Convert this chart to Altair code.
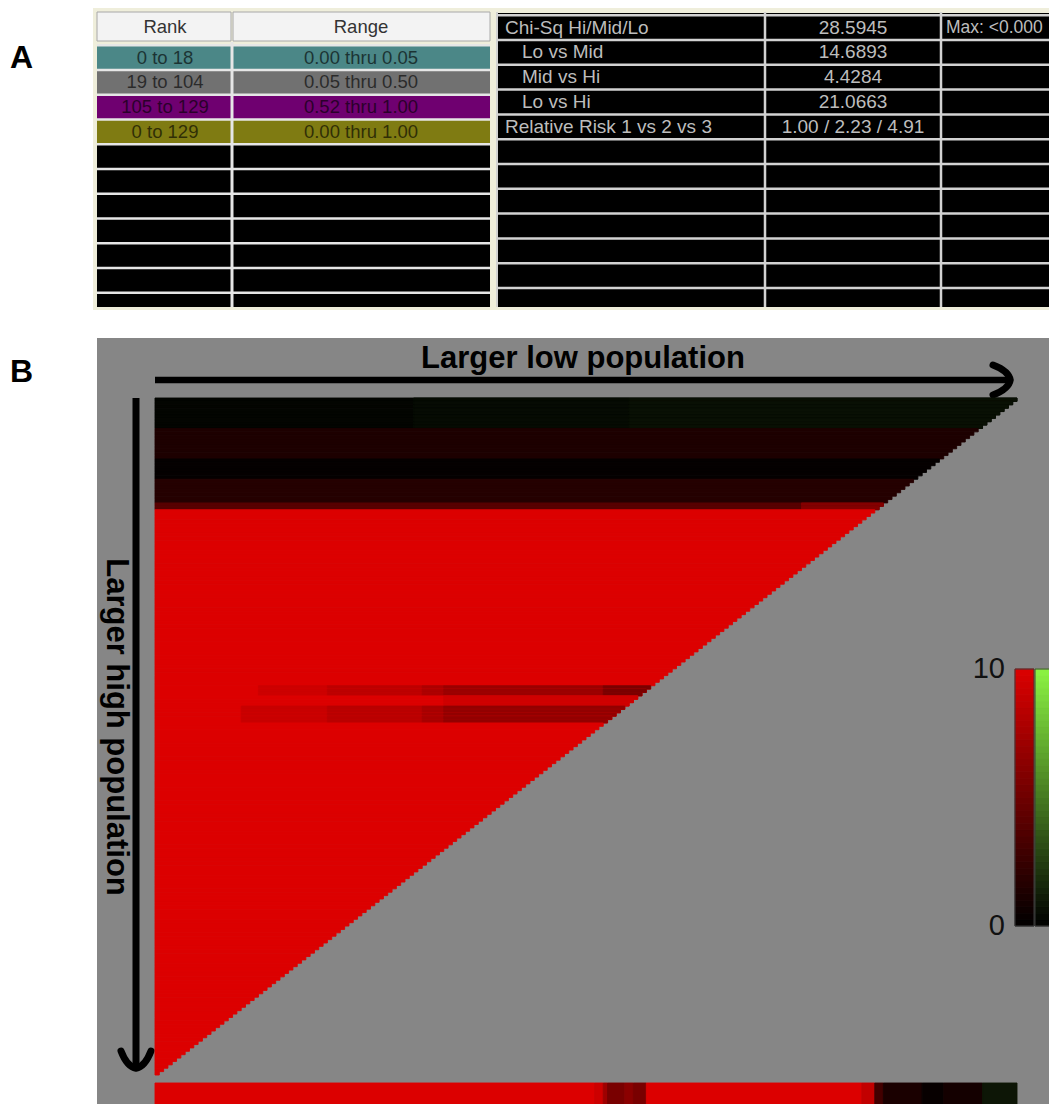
import altair as alt
import pandas as pd

OFF = 8  # page margin of the html page


def px(v):
    return v - OFF


W, H = 1041, 1096
FONT = "Liberation Sans, Arial, Helvetica, sans-serif"

# ---------------- data ----------------
# Panel A, left table
rank_labels = ["0 to 18", "19 to 104", "105 to 129", "0 to 129"]
range_labels = ["0.00 thru 0.05", "0.05 thru 0.50", "0.52 thru 1.00", "0.00 thru 1.00"]

# Panel A, right table
stat_names = ["Chi-Sq Hi/Mid/Lo", "Lo vs Mid", "Mid vs Hi", "Lo vs Hi", "Relative Risk 1 vs 2 vs 3"]
stat_values = ["28.5945", "14.6893", "4.4284", "21.0663", "1.00 / 2.23 / 4.91"]
stat_notes = ["Max: <0.000", "", "", "", ""]
stat_level = [0, 1, 1, 1, 0]

# Panel B, triangular map: N cut-offs on each axis
N_CUT = 200
# segments: rows [r0, r1), columns [c0, c1), signed score (+ red, - green)
seg_r0 = [0, 9, 18, 24, 31, 33, 0, 0, 31, 85, 85, 85, 85, 85, 88, 91, 91, 91, 91]
seg_r1 = [9, 18, 24, 31, 33, 200, 9, 9, 33, 88, 88, 88, 88, 88, 91, 96, 96, 96, 96]
seg_c0 = [0, 0, 0, 0, 0, 0, 60, 110, 150, 24, 40, 62, 67, 104, 67, 20, 40, 62, 67]
seg_c1 = [200, 200, 200, 200, 200, 200, 110, 200, 200, 40, 62, 67, 104, 200, 200, 40, 62, 67, 200]
seg_score = [-0.2, 1.3, 0.25, 1.7, 4.0, 10, -0.45, -0.65, 6.0,
             9.3, 8.6, 7.8, 7.0, 5.6, 9.4, 9.1, 8.4, 7.6, 6.7]

# Panel B, summary strip below the map (columns)
bar_c0 = [0, 102, 104, 105, 109, 111, 114, 164, 167, 169, 178, 183, 192]
bar_c1 = [102, 104, 105, 109, 111, 114, 164, 167, 169, 178, 183, 192, 200]
bar_score = [10, 9.3, 7.2, 5.5, 6.3, 5.5, 10, 8.8, 3.0, 1.2, 0.3, 0.9, -0.9]

# color key
legend_min, legend_max = 0, 10

# ---------------- styles ----------------
GROUP_COLORS = ["#4b8787", "#717171", "#6f0070", "#7f7b12"]
GRAY = "#868686"
cS = alt.Scale(domain=[-10, 0, 10], range=["#8cf442", "#000000", "#dc0000"], interpolate="rgb")

ONE = pd.DataFrame({"k": [0]})


def rect(x0, x1, y0, y1, fill, **kw):
    return alt.Chart(ONE).mark_rect(color=fill, **kw).encode(
        x=alt.value(px(x0)), x2=alt.value(px(x1)),
        y=alt.value(px(y0)), y2=alt.value(px(y1)))


def label(text, x, y, size, weight="normal", align="left", baseline="alphabetic",
          color="black", angle=0, opacity=1.0):
    kw = dict(font=FONT, fontSize=size, fontWeight=weight, align=align,
              baseline=baseline, color=color, opacity=opacity)
    if angle:
        kw["angle"] = angle
    return alt.Chart(pd.DataFrame({"t": [text]})).mark_text(**kw).encode(
        text="t:N", x=alt.value(px(x)), y=alt.value(px(y)))


def hline(x0, x1, y, color, w):
    return alt.Chart(ONE).mark_rule(color=color, strokeWidth=w).encode(
        x=alt.value(px(x0)), x2=alt.value(px(x1)), y=alt.value(px(y)))


def vline(x, y0, y1, color, w):
    return alt.Chart(ONE).mark_rule(color=color, strokeWidth=w).encode(
        x=alt.value(px(x)), y=alt.value(px(y0)), y2=alt.value(px(y1)))


layers = []

# ================= Panel A =================
layers.append(rect(93, 1057, 7, 310, "#efeedb"))

# ---- left table ----
yL = alt.Scale(domain=[0, 11], range=[px(45.3), px(45.3 + 11 * 24.74)])
layers.append(rect(97, 231, 12, 41, "#f3f3f3", stroke="#a8a8a8", strokeWidth=1))
layers.append(rect(233, 490, 12, 41, "#f3f3f3", stroke="#a8a8a8", strokeWidth=1))
layers.append(label("Rank", 165, 27, 18.5, align="center", baseline="middle", color="#333333"))
layers.append(label("Range", 361, 27, 18.5, align="center", baseline="middle", color="#333333"))
layers.append(rect(97, 490, 44, 307, "#000000"))

left_df = pd.DataFrame({"row": list(range(len(rank_labels))), "rank": rank_labels,
                        "rng": range_labels})
layers.append(
    alt.Chart(left_df).transform_calculate(row_end="datum.row + 1").mark_rect().encode(
        y=alt.Y("row:Q", scale=yL, axis=None), y2="row_end:Q",
        x=alt.value(px(97)), x2=alt.value(px(490)),
        color=alt.Color("rank:N", scale=alt.Scale(domain=rank_labels, range=GROUP_COLORS),
                        legend=None)))
layers.append(
    alt.Chart(pd.DataFrame({"b": list(range(0, 11))})).mark_rule(
        color="#e6e6e6", strokeWidth=2.5).encode(
        y=alt.Y("b:Q", scale=yL, axis=None), x=alt.value(px(97)), x2=alt.value(px(490))))
layers.append(vline(232, 42, 307, "#e6e6e6", 3))
for field, xc in (("rank", 165), ("rng", 361)):
    layers.append(
        alt.Chart(left_df).transform_calculate(mid="datum.row + 0.5").mark_text(
            font=FONT, fontSize=18.5, color="black", opacity=0.62, baseline="middle",
            align="center").encode(
            y=alt.Y("mid:Q", scale=yL, axis=None), x=alt.value(px(xc)), text=f"{field}:N"))

# ---- right table ----
yR = alt.Scale(domain=[0, 12], range=[px(15.2), px(15.2 + 12 * 24.8)])
layers.append(rect(497, 1060, 13, 307, "#000000"))
layers.append(
    alt.Chart(pd.DataFrame({"b": list(range(0, 12))})).mark_rule(
        color="#d2d2d2", strokeWidth=2.5).encode(
        y=alt.Y("b:Q", scale=yR, axis=None), x=alt.value(px(497)), x2=alt.value(px(1060))))
layers.append(vline(497, 12, 307, "#d2d2d2", 2))
layers.append(vline(765, 12, 307, "#d2d2d2", 2.5))
layers.append(vline(941, 12, 307, "#d2d2d2", 2.5))

right_df = pd.DataFrame({"row": list(range(len(stat_names))), "name": stat_names,
                         "val": stat_values, "note": stat_notes, "lvl": stat_level})
txt_kw = dict(font=FONT, color="#bdbdbd", baseline="middle")
layers.append(
    alt.Chart(right_df).transform_calculate(mid="datum.row + 0.5").mark_text(
        align="left", fontSize=19, **txt_kw).encode(
        y=alt.Y("mid:Q", scale=yR, axis=None),
        x=alt.X("lvl:Q", scale=alt.Scale(domain=[0, 1], range=[px(505), px(522)]), axis=None),
        text="name:N"))
layers.append(
    alt.Chart(right_df).transform_calculate(mid="datum.row + 0.5").mark_text(
        align="center", fontSize=19, **txt_kw).encode(
        y=alt.Y("mid:Q", scale=yR, axis=None), x=alt.value(px(853)), text="val:N"))
layers.append(
    alt.Chart(right_df).transform_filter("datum.note != ''").transform_calculate(
        mid="datum.row + 0.5").mark_text(align="left", fontSize=17.5, **txt_kw).encode(
        y=alt.Y("mid:Q", scale=yR, axis=None), x=alt.value(px(946)), text="note:N"))

# panel letters
layers.append(label("A", 10, 68, 32, weight="bold"))
layers.append(label("B", 10, 382, 32, weight="bold"))

# ================= Panel B =================
layers.append(rect(97, 1060, 338, 1115, GRAY))
layers.append(label("Larger low population", 583, 368, 31, weight="bold", align="center"))
layers.append(label("Larger high population", 116, 727, 31, weight="bold", align="center",
                    baseline="middle", angle=90))

# arrows
CHEVRON = "M -0.6 -1 Q 0.45 -0.6 0.55 0 Q 0.45 0.6 -0.6 1"
layers.append(hline(155, 1008, 380, "black", 6.5))
layers.append(vline(136, 398, 1066, "black", 7))
for ang, (ax, ay) in ((0, (1002, 380)), (90, (136, 1060))):
    kw = dict(shape=CHEVRON, size=900, filled=False, strokeWidth=7, color="black",
              opacity=1, strokeCap="round")
    if ang:
        kw["angle"] = ang
    layers.append(alt.Chart(ONE).mark_point(**kw).encode(
        x=alt.value(px(ax)), y=alt.value(px(ay))))

# triangular heat map
xH = alt.Scale(domain=[0, N_CUT], range=[px(155), px(1017)])
yH = alt.Scale(domain=[0, N_CUT], range=[px(398), px(1075)])
cells = []
for r in range(N_CUT):
    w = N_CUT - r
    for r0, r1, c0, c1, s in zip(seg_r0, seg_r1, seg_c0, seg_c1, seg_score):
        if r0 <= r < r1 and c0 < w:
            cells.append({"r": r, "r1": r + 1, "c": c0, "c1": min(c1, w), "score": s})
heat_df = pd.DataFrame(cells)
layers.append(
    alt.Chart(heat_df).mark_rect(strokeWidth=0.9).encode(
        x=alt.X("c:Q", scale=xH, axis=None), x2="c1:Q",
        y=alt.Y("r:Q", scale=yH, axis=None), y2="r1:Q",
        color=alt.Color("score:Q", scale=cS, legend=None),
        stroke=alt.Stroke("score:Q", scale=cS, legend=None)))

# summary strip
bar_df = pd.DataFrame({"c0": bar_c0, "c1": bar_c1, "score": bar_score})
layers.append(
    alt.Chart(bar_df).mark_rect(strokeWidth=0.9).encode(
        x=alt.X("c0:Q", scale=xH, axis=None), x2="c1:Q",
        y=alt.value(px(1083)), y2=alt.value(px(1107)),
        color=alt.Color("score:Q", scale=cS, legend=None),
        stroke=alt.Stroke("score:Q", scale=cS, legend=None)))

# color key (two ramps: red for +, green for -)
yLeg = alt.Scale(domain=[legend_min, legend_max], range=[px(926), px(669)])
steps = [legend_min + i * 0.25 for i in range(int((legend_max - legend_min) / 0.25))]
for sign, (kx0, kx1) in ((1, (1015, 1034)), (-1, (1035, 1054))):
    kdf = pd.DataFrame({"v0": steps, "v1": [s + 0.25 for s in steps],
                        "score": [sign * (s + 0.125) for s in steps]})
    layers.append(
        alt.Chart(kdf).mark_rect(strokeWidth=0.8).encode(
            y=alt.Y("v0:Q", scale=yLeg, axis=None), y2="v1:Q",
            x=alt.value(px(kx0)), x2=alt.value(px(kx1)),
            color=alt.Color("score:Q", scale=cS, legend=None),
            stroke=alt.Stroke("score:Q", scale=cS, legend=None)))
    layers.append(rect(kx0, kx1, 669, 926, "#000000", fillOpacity=0, stroke="#3c3c3c",
                       strokeWidth=1))
layers.append(
    alt.Chart(pd.DataFrame({"v": [legend_min, legend_max]})).mark_text(
        font=FONT, fontSize=29, align="right", baseline="middle", color="#111111").encode(
        y=alt.Y("v:Q", scale=yLeg, axis=None), x=alt.value(px(1005)), text="v:Q"))

chart = alt.layer(*layers).resolve_scale(
    x="independent", y="independent", color="independent", stroke="independent"
).properties(
    width=W, height=H, autosize=alt.AutoSizeParams(type="none"), padding=0,
    background="white"
).configure_view(stroke=None)

chart.save("out.html", embed_options={"renderer": "svg", "actions": False})
